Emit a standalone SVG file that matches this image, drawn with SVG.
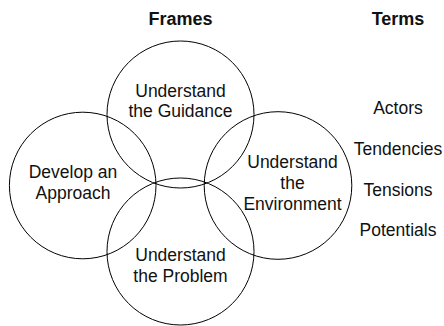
<svg xmlns="http://www.w3.org/2000/svg" width="444" height="326" viewBox="0 0 444 326">
<style>
.c{fill:none;stroke:#000;stroke-width:1}
.t{font-family:"Liberation Sans",Arial,sans-serif;font-size:17.5px;fill:#111;text-anchor:middle}
.h{font-family:"Liberation Sans",Arial,sans-serif;font-size:18px;font-weight:bold;fill:#111;text-anchor:middle}
</style>
<rect width="444" height="326" fill="#fff"/>
<g id="headers">
<text class="h" x="180.5" y="25">Frames</text>
<text class="h" x="398" y="25">Terms</text>
</g>
<g id="connectors"></g>
<g id="guidance">
<circle class="c" cx="180.5" cy="114.5" r="73.5"/>
<text class="t" x="180.5" y="96.5">Understand</text>
<text class="t" x="180.5" y="117">the Guidance</text>
</g>
<g id="approach">
<circle class="c" cx="82.7" cy="185.5" r="73.3"/>
<text class="t" x="73" y="178">Develop an</text>
<text class="t" x="73" y="199">Approach</text>
</g>
<g id="environment">
<circle class="c" cx="278" cy="185.5" r="73.8"/>
<text class="t" x="292.5" y="167.5">Understand</text>
<text class="t" x="292.5" y="188.5">the</text>
<text class="t" x="292.5" y="209.5">Environment</text>
</g>
<g id="problem">
<circle class="c" cx="180.5" cy="251.5" r="73.5"/>
<text class="t" x="180.5" y="261">Understand</text>
<text class="t" x="180.5" y="281.5">the Problem</text>
</g>
<g id="terms">
<text class="t" x="398" y="114">Actors</text>
<text class="t" x="398" y="155">Tendencies</text>
<text class="t" x="398" y="195.5">Tensions</text>
<text class="t" x="398" y="236">Potentials</text>
</g>
</svg>
